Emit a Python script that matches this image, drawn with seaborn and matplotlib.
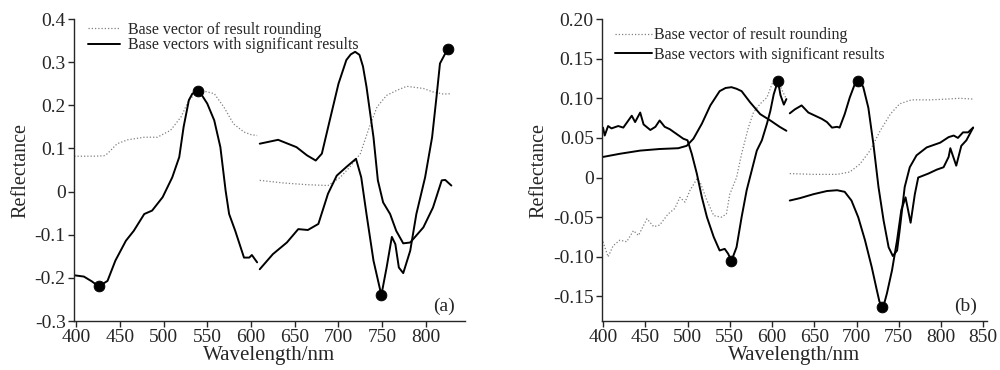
import matplotlib
matplotlib.use("Agg")
import pandas as pd
import seaborn as sns
from matplotlib import pyplot as plt
from matplotlib.lines import Line2D

# ---- panel (a) ----
a_dot1_wl = [398, 410, 420, 432, 436, 447, 459, 478, 493, 508, 520, 529, 539, 548, 558, 569, 580, 592, 600, 607]
a_dot1_r = [0.082, 0.082, 0.082, 0.083, 0.088, 0.111, 0.120, 0.126, 0.126, 0.142, 0.173, 0.212, 0.232, 0.232,
            0.227, 0.196, 0.157, 0.138, 0.132, 0.130]
a_sol1_wl = [398, 409, 418, 426, 436, 445, 457, 466, 478, 487, 499, 510, 518, 523, 529, 533, 539, 544, 550,
             558, 565, 571, 575, 582, 592, 598, 601, 607]
a_sol1_r = [-0.194, -0.197, -0.208, -0.220, -0.207, -0.160, -0.114, -0.091, -0.052, -0.044, -0.013, 0.033,
            0.080, 0.150, 0.212, 0.227, 0.232, 0.223, 0.204, 0.165, 0.103, 0.002, -0.052, -0.091, -0.153,
            -0.153, -0.147, -0.164]
a_dot2_wl = [610, 637, 664, 688, 702, 713, 725, 734, 744, 755, 767, 778, 797, 808, 820, 829]
a_dot2_r = [0.026, 0.020, 0.016, 0.014, 0.033, 0.057, 0.088, 0.142, 0.196, 0.223, 0.235, 0.244, 0.239,
            0.231, 0.226, 0.227]
a_up_wl = [610, 631, 652, 664, 674, 681, 690, 700, 709, 714, 719, 724, 728, 732, 740, 745, 751, 759, 766,
           774, 782, 797, 808, 818, 822, 829]
a_up_r = [0.111, 0.120, 0.103, 0.084, 0.072, 0.088, 0.165, 0.250, 0.305, 0.318, 0.324, 0.317, 0.290,
          0.243, 0.126, 0.026, -0.025, -0.052, -0.091, -0.120, -0.118, -0.083, -0.037, 0.026, 0.027, 0.014]
a_lo_wl = [610, 625, 641, 654, 665, 677, 688, 698, 709, 720, 726, 732, 740, 749, 755, 761, 765, 769, 774,
           782, 789, 799, 807, 812, 816, 822, 825]
a_lo_r = [-0.180, -0.145, -0.118, -0.087, -0.089, -0.075, -0.005, 0.037, 0.057, 0.076, 0.033, -0.052,
          -0.160, -0.240, -0.176, -0.105, -0.122, -0.176, -0.189, -0.137, -0.052, 0.033, 0.126, 0.219,
          0.297, 0.320, 0.330]
a_mark_wl = [426, 539, 749, 825]
a_mark_r = [-0.220, 0.232, -0.240, 0.330]

# ---- panel (b) ----
b_dot1_wl = [400, 406, 412, 420, 428, 436, 442, 452, 460, 467, 477, 485, 491, 497, 503, 511, 515, 523, 531,
             540, 546, 550, 558, 564, 572, 578, 586, 594, 600, 604, 607, 612, 617]
b_dot1_r = [-0.081, -0.100, -0.086, -0.079, -0.081, -0.067, -0.073, -0.052, -0.062, -0.060, -0.046,
            -0.039, -0.025, -0.031, -0.016, -0.002, -0.006, -0.029, -0.048, -0.050, -0.046, -0.021, 0.000,
            0.030, 0.063, 0.082, 0.093, 0.101, 0.118, 0.124, 0.122, 0.110, 0.099]
b_noisy_wl = [400, 402, 406, 410, 418, 424, 430, 434, 438, 444, 448, 456, 462, 467, 473, 479, 487, 495,
              500, 505, 511, 517, 523, 531, 538, 544, 548, 552, 558, 564, 570, 576, 582, 588, 594, 598,
              602, 607, 610, 614, 617]
b_noisy_r = [0.063, 0.053, 0.065, 0.062, 0.065, 0.063, 0.072, 0.078, 0.070, 0.082, 0.067, 0.060, 0.064,
             0.072, 0.064, 0.061, 0.055, 0.049, 0.047, 0.030, 0.005, -0.025, -0.050, -0.075, -0.092,
             -0.090, -0.096, -0.105, -0.088, -0.050, -0.016, 0.009, 0.034, 0.047, 0.068, 0.084, 0.105,
             0.122, 0.104, 0.092, 0.099]
b_smooth_wl = [400, 420, 444, 467, 489, 499, 507, 517, 527, 538, 545, 552, 558, 564, 574, 586, 598, 609, 617]
b_smooth_r = [0.026, 0.030, 0.034, 0.036, 0.037, 0.040, 0.049, 0.068, 0.091, 0.109, 0.113, 0.114, 0.112,
              0.109, 0.095, 0.080, 0.072, 0.064, 0.059]
b_dot2_wl = [621, 649, 677, 692, 704, 716, 728, 740, 751, 765, 787, 807, 822, 838]
b_dot2_r = [0.005, 0.004, 0.004, 0.007, 0.017, 0.034, 0.059, 0.080, 0.093, 0.098, 0.098, 0.099, 0.100,
            0.099]
b_up_wl = [621, 627, 635, 643, 651, 659, 665, 671, 677, 680, 686, 692, 698, 702, 705, 708, 714, 720, 726,
           732, 738, 743, 748, 751, 757, 763, 771, 783, 799, 809, 815, 820, 826, 832, 838]
b_up_r = [0.081, 0.086, 0.091, 0.082, 0.078, 0.074, 0.070, 0.063, 0.064, 0.063, 0.080, 0.101, 0.118,
          0.122, 0.120, 0.114, 0.088, 0.042, -0.012, -0.054, -0.088, -0.099, -0.092, -0.067, -0.012,
          0.013, 0.028, 0.038, 0.044, 0.051, 0.053, 0.050, 0.057, 0.057, 0.063]
b_lo_wl = [621, 633, 649, 665, 677, 686, 694, 702, 710, 718, 724, 727, 730, 733, 736, 742, 748, 753, 758,
           764, 769, 773, 785, 795, 803, 809, 811, 818, 824, 830, 838]
b_lo_r = [-0.029, -0.026, -0.021, -0.017, -0.016, -0.018, -0.029, -0.050, -0.079, -0.113, -0.142, -0.156,
          -0.163, -0.158, -0.146, -0.117, -0.079, -0.041, -0.025, -0.057, -0.021, 0.000, 0.005, 0.010,
          0.013, 0.026, 0.037, 0.015, 0.040, 0.047, 0.063]
b_mark_wl = [552, 607, 702, 730]
b_mark_r = [-0.105, 0.122, 0.122, -0.163]

legend_labels = ["Base vector of result rounding", "Base vectors with significant results"]
a_yticks = [-0.3, -0.2, -0.1, 0, 0.1, 0.2, 0.3, 0.4]
a_ylabels = ["-0.3", "-0.2", "-0.1", "0", "0.1", "0.2", "0.3", "0.4"]
b_yticks = [-0.15, -0.10, -0.05, 0, 0.05, 0.10, 0.15, 0.20]
b_ylabels = ["-0.15", "-0.10", "-0.05", "0", "0.05", "0.10", "0.15", "0.20"]

DOT = dict(color="#808080", linestyle=(0, (1, 1.6)), linewidth=0.9)
SOLID = dict(color="black", linewidth=1.4)


def draw_panel(ax, dotted, solid, marks, xticks, yticks, ylabels, xlim, ylim, tag, leg_xy, leg_space,
               hlen, hpad):
    for wl, r in dotted:
        sns.lineplot(x=wl, y=r, ax=ax, sort=False, **DOT)
    for wl, r in solid:
        sns.lineplot(x=wl, y=r, ax=ax, sort=False, **SOLID)
    sns.scatterplot(x=marks[0], y=marks[1], ax=ax, color="black", s=60, edgecolor="black", zorder=5)

    ax.set_xlim(*xlim)
    ax.set_ylim(*ylim)
    ax.set_xticks(xticks)
    ax.set_xticklabels([str(t) for t in xticks])
    ax.set_yticks(yticks)
    ax.set_yticklabels(ylabels)
    ax.tick_params(direction="out", length=4, width=1, labelsize=14, pad=2)
    ax.set_xlabel("Wavelength/nm", fontsize=15, labelpad=0)
    ax.set_ylabel("Reflectance", fontsize=14.5, labelpad=3)
    sns.despine(ax=ax)
    for s in ("left", "bottom"):
        ax.spines[s].set_linewidth(1.0)

    handles = [Line2D([], [], **DOT), Line2D([], [], **SOLID)]
    ax.legend(handles, legend_labels, loc="upper left", bbox_to_anchor=leg_xy, frameon=False,
              fontsize=11.5, borderpad=0, borderaxespad=0, handlelength=hlen, handletextpad=hpad,
              labelspacing=leg_space)
    ax.text(0.975, 0.02, tag, transform=ax.transAxes, ha="right", va="bottom", fontsize=14)


def main():
    sns.set_style("ticks")
    plt.rcParams["font.family"] = ["Liberation Serif", "DejaVu Serif"]
    fig = plt.figure(figsize=(10, 3.7), dpi=100)
    ax1 = fig.add_axes([0.074, 0.1324, 0.391, 0.8162])
    ax2 = fig.add_axes([0.602, 0.1324, 0.385, 0.8162])

    draw_panel(ax1,
               [(a_dot1_wl, a_dot1_r), (a_dot2_wl, a_dot2_r)],
               [(a_sol1_wl, a_sol1_r), (a_up_wl, a_up_r), (a_lo_wl, a_lo_r)],
               (a_mark_wl, a_mark_r), list(range(400, 801, 50)), a_yticks, a_ylabels,
               (397.7, 844.6), (-0.3, 0.4), "(a)", (0.036, 0.99), -0.05, 2.0, 0.5)
    draw_panel(ax2,
               [(b_dot1_wl, b_dot1_r), (b_dot2_wl, b_dot2_r)],
               [(b_noisy_wl, b_noisy_r), (b_smooth_wl, b_smooth_r), (b_up_wl, b_up_r), (b_lo_wl, b_lo_r)],
               (b_mark_wl, b_mark_r), list(range(400, 851, 50)), b_yticks, b_ylabels,
               (398.8, 854.4), (-0.181, 0.20), "(b)", (0.034, 0.972), 0.2, 2.3, 0.15)

    fig.savefig("out.png", dpi=100, facecolor="white")
    plt.close(fig)


if __name__ == "__main__":
    main()
